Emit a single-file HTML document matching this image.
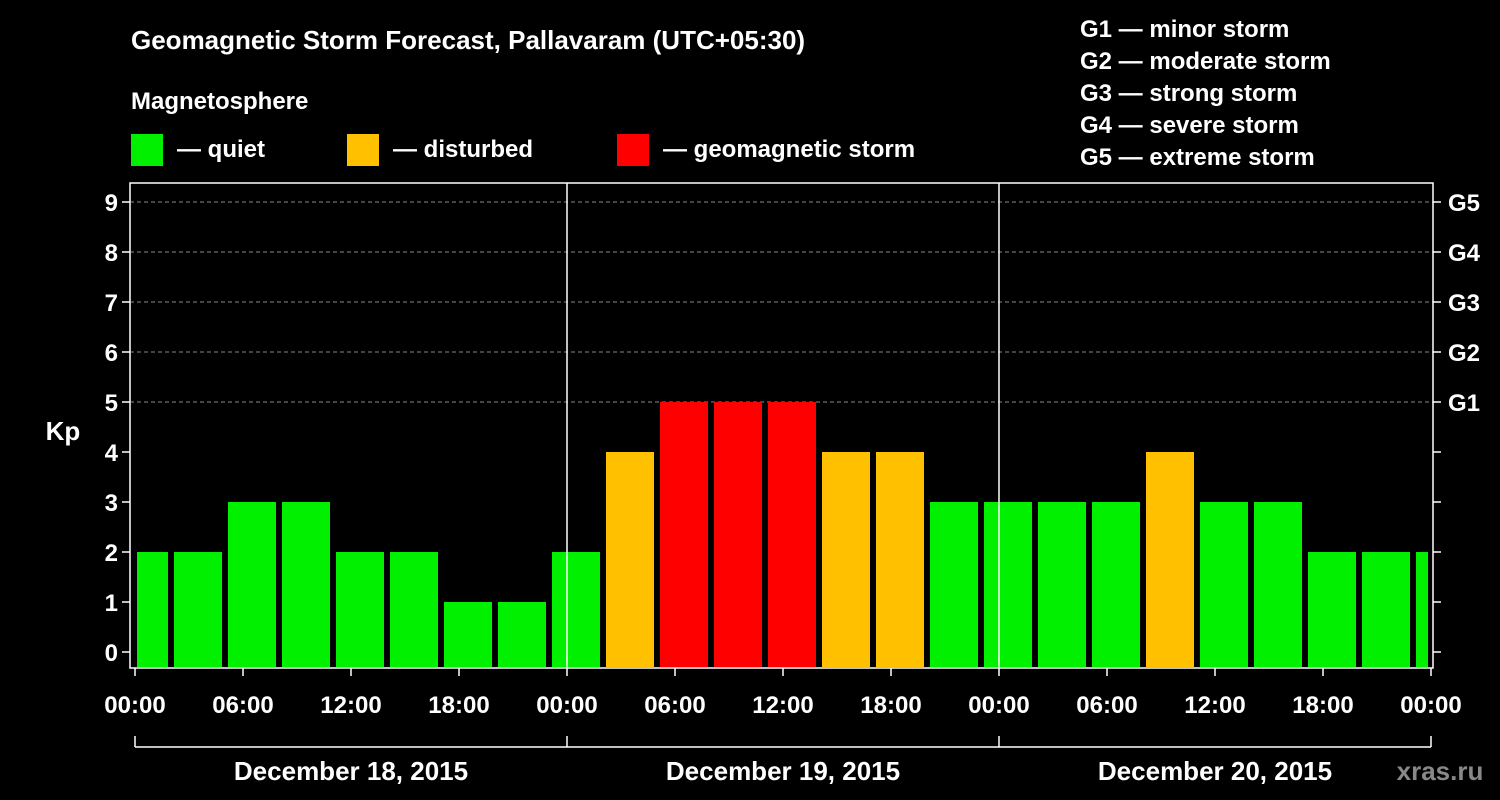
<!DOCTYPE html>
<html><head><meta charset="utf-8"><style>
html,body{margin:0;padding:0;background:#000;}
svg{display:block;font-family:"Liberation Sans",sans-serif;font-weight:bold;}
</style></head><body>
<svg id="chart" width="1500" height="800" viewBox="0 0 1500 800" xmlns="http://www.w3.org/2000/svg">
<rect width="1500" height="800" fill="#000"/>
<text x="131" y="49" fill="#fff" font-size="26">Geomagnetic Storm Forecast, Pallavaram (UTC+05:30)</text>
<text x="131" y="109" fill="#fff" font-size="24">Magnetosphere</text>
<rect x="131" y="134" width="32" height="32" fill="#00f000"/>
<text x="177" y="157" fill="#fff" font-size="24">— quiet</text>
<rect x="347" y="134" width="32" height="32" fill="#ffc000"/>
<text x="393" y="157" fill="#fff" font-size="24">— disturbed</text>
<rect x="617" y="134" width="32" height="32" fill="#ff0000"/>
<text x="663" y="157" fill="#fff" font-size="24">— geomagnetic storm</text>
<g fill="#fff" font-size="24">
<text x="1080" y="37">G1 — minor storm</text>
<text x="1080" y="69">G2 — moderate storm</text>
<text x="1080" y="101">G3 — strong storm</text>
<text x="1080" y="133">G4 — severe storm</text>
<text x="1080" y="165">G5 — extreme storm</text>
</g>
<text x="63" y="440" fill="#fff" font-size="26" text-anchor="middle">Kp</text>
<text x="1440" y="780" fill="#888" font-size="26" text-anchor="middle">xras.ru</text>
<g id="grid"></g><g id="bars"></g><g id="axes"></g>
</svg>
<script>
const kpValues = [2,2,3,3,2,2,1,1,2,4,5,5,5,4,4,3,3,3,3,4,3,3,2,2,2];
const yTicks = [0,1,2,3,4,5,6,7,8,9];
const gLabels = ["G1","G2","G3","G4","G5"];
const dayLabels = ["December 18, 2015","December 19, 2015","December 20, 2015"];
const hourLabels = ["00:00","06:00","12:00","18:00"];
const NS="http://www.w3.org/2000/svg";
const X0=135, PXH=18, L=130, R=1433, T=183, B=668;
const y=v=>652-50*v;
const x=h=>X0+h*PXH;
function mk(tag,attrs,parent,text){const e=document.createElementNS(NS,tag);for(const k in attrs)e.setAttribute(k,attrs[k]);if(text!==undefined)e.textContent=text;parent.appendChild(e);return e;}
const grid=document.getElementById('grid'),bars=document.getElementById('bars'),axes=document.getElementById('axes');
yTicks.forEach(v=>{
  if(v>=5){const l=mk('line',{x1:L,x2:R,y1:y(v),y2:y(v),stroke:'#888','stroke-dasharray':'4,3','stroke-width':1},grid);
  
  }
  mk('line',{x1:L-8,x2:L,y1:y(v),y2:y(v),stroke:'#fff','stroke-width':1.5},axes);
  mk('line',{x1:R,x2:R+8,y1:y(v),y2:y(v),stroke:'#fff','stroke-width':1.5},axes);
  const t=mk('text',{x:L-12,y:y(v)+9,fill:'#fff','font-size':24,'text-anchor':'end'},axes,String(v));
  
  
  if(v>=5){const g=mk('text',{x:1448,y:y(v)+9,fill:'#fff','font-size':24},axes,gLabels[v-5]);
  
  }
});
const color=v=>v>=5?'#ff0000':(v>=4?'#ffc000':'#00f000');
kpValues.forEach((v,i)=>{
  let s=x(3*i-1)+3, e=s+48;
  s=Math.max(s,137); e=Math.min(e,1428);
  const r=mk('rect',{x:s,y:y(v),width:e-s,height:667-y(v),fill:color(v)},bars);
  
  
});
mk('rect',{x:L,y:T,width:R-L,height:B-T,fill:'none',stroke:'#fff','stroke-width':1.5},axes);
for(let d=0;d<=3;d++){
  const dx=x(24*d);
  if(d>0&&d<3) mk('line',{x1:dx,x2:dx,y1:T,y2:B,stroke:'#fff','stroke-width':1.5},axes);
  mk('line',{x1:dx,x2:dx,y1:736,y2:747,stroke:'#fff','stroke-width':1.5},axes);
}
mk('line',{x1:x(0),x2:x(72),y1:747,y2:747,stroke:'#fff','stroke-width':1.5},axes);
for(let h=0;h<=72;h+=6){
  mk('line',{x1:x(h),x2:x(h),y1:B,y2:B+8,stroke:'#fff','stroke-width':1.5},axes);
  const t=mk('text',{x:x(h),y:713,fill:'#fff','font-size':24,'text-anchor':'middle'},axes,hourLabels[(h/6)%4]);
  
  
}
dayLabels.forEach((d,i)=>{
  const t=mk('text',{x:x(24*i+12),y:780,fill:'#fff','font-size':26,'text-anchor':'middle'},axes,d);
  
  
});
</script>
</body></html>
